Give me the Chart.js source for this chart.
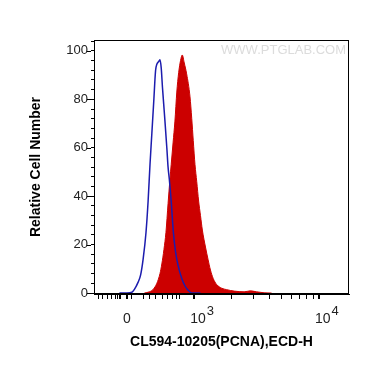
<!DOCTYPE html>
<html>
<head>
<meta charset="utf-8">
<script src="https://cdn.jsdelivr.net/npm/chart.js@4/dist/chart.umd.min.js"></script>
<style>
  html, body { margin: 0; padding: 0; background: #fff; }
  #wrap { width: 370px; height: 367px; }
</style>
</head>
<body>
<div id="wrap"><canvas id="chart"></canvas></div>
<script>
// x positions are display units of the logicle axis (10^3 -> 3, 10^4 -> 4)
const isoX = [2.40, 2.46, 2.50, 2.52, 2.55, 2.57, 2.59, 2.613, 2.63, 2.645, 2.66, 2.675, 2.69, 2.70, 2.713, 2.725,
              2.735, 2.745, 2.755, 2.765, 2.78, 2.79, 2.80, 2.815, 2.832, 2.85, 2.872, 2.90, 2.925, 2.95, 2.98, 3.05];
const isoY = [0, 0, 0.3, 1.5, 4.5, 7.5, 14, 25, 38, 53, 66, 79, 92, 94.5, 95.5, 96.3,
              93, 85, 78, 71, 60, 52, 47, 38, 25.4, 17, 11, 6, 3, 1.2, 0, 0];

const pcnaX = [2.60, 2.64, 2.67, 2.70, 2.725, 2.74, 2.757, 2.773, 2.79, 2.805, 2.815, 2.83, 2.845, 2.86, 2.875, 2.89,
               2.904, 2.92, 2.939, 2.966, 2.98, 2.992, 3.006, 3.02, 3.035, 3.05, 3.065, 3.09, 3.11, 3.13, 3.152,
               3.18, 3.22, 3.26, 3.32, 3.40, 3.45, 3.50, 3.56, 3.62];
const pcnaY = [0, 0.5, 1.5, 4, 8, 12, 18, 25, 37, 47, 53, 62, 71, 83, 91, 96,
               98.3, 95, 90.5, 81, 72, 63, 53, 46, 38, 32, 26, 19, 14, 9.5, 6,
               3.5, 2, 1.4, 0.8, 0.5, 0.9, 0.5, 0.1, 0];

const xMajorTicks = [2.46, 3, 4];
const xMajorLabels = [['0', ''], ['10', '3'], ['10', '4']];
const xMinorTicks = [2.23, 2.265, 2.302, 2.338, 2.372, 2.386, 2.399, 2.412, 2.498, 2.591, 2.639, 2.693, 2.747,
                     2.784, 2.827, 2.859, 2.885, 3.301, 3.477, 3.602, 3.699, 3.778, 3.845, 3.903, 3.954];
const yTicks = [0, 4, 8, 12, 16, 20, 24, 28, 32, 36, 40, 44, 48, 52, 56, 60, 64, 68, 72, 76, 80, 84, 88, 92, 96, 100, 104];

const watermark = 'WWW.PTGLAB.COM';
const fontFamily = '"Liberation Sans", Arial, sans-serif';

const decorations = {
    id: 'decorations',
    beforeDatasetsDraw(chart) {
        const {ctx, chartArea: a} = chart;
        ctx.save();
        ctx.font = '13px ' + fontFamily;
        ctx.fillStyle = '#dcdcdc';
        ctx.textAlign = 'right';
        ctx.textBaseline = 'alphabetic';
        ctx.fillText(watermark, a.right - 3, a.top + 14);
        ctx.restore();
    },
    afterDraw(chart) {
        const {ctx, chartArea: a, scales: {x, y}} = chart;
        ctx.save();
        // plot frame
        ctx.strokeStyle = '#000';
        ctx.lineWidth = 1;
        ctx.strokeRect(a.left + 0.5, a.top + 0.5, a.right - a.left - 1, a.bottom - a.top - 1);

        // longer marks for labelled y ticks
        yTicks.filter(v => v % 20 === 0).forEach(v => {
            const py = Math.round(y.getPixelForValue(v)) + 0.5;
            ctx.beginPath();
            ctx.moveTo(a.left - 7, py);
            ctx.lineTo(a.left - 3, py);
            ctx.stroke();
        });

        // x labels with superscript exponents
        ctx.fillStyle = '#222';
        ctx.textBaseline = 'alphabetic';
        ctx.textAlign = 'left';
        xMajorTicks.forEach((v, i) => {
            const [base, sup] = xMajorLabels[i];
            const px = x.getPixelForValue(v);
            ctx.font = '14px ' + fontFamily;
            const w = ctx.measureText(base).width;
            const left = sup ? px - 4 : px - w / 2;
            ctx.fillText(base, left, a.bottom + 29);
            if (sup) {
                ctx.font = '13px ' + fontFamily;
                ctx.fillText(sup, left + w + 1, a.bottom + 21);
            }
        });
        ctx.restore();
    }
};

new Chart('chart', {
    type: 'line',
    data: {
        datasets: [
            {
                label: 'Isotype',
                data: isoX.map((v, i) => ({x: v, y: isoY[i]})),
                borderColor: '#1c1cae',
                borderWidth: 1.5,
                pointRadius: 0,
                fill: false,
                cubicInterpolationMode: 'monotone',
                order: 0
            },
            {
                label: 'PCNA',
                data: pcnaX.map((v, i) => ({x: v, y: pcnaY[i]})),
                borderColor: '#cc0000',
                backgroundColor: '#cc0000',
                borderWidth: 1,
                pointRadius: 0,
                fill: 'origin',
                cubicInterpolationMode: 'monotone',
                order: 1
            }
        ]
    },
    options: {
        responsive: true,
        maintainAspectRatio: false,
        animation: false,
        layout: {
            padding: {left: 28, top: 40, right: 21, bottom: 0}
        },
        plugins: {
            legend: {display: false},
            tooltip: {enabled: false}
        },
        scales: {
            x: {
                type: 'linear',
                min: 2.196,
                max: 4.241,
                afterFit: function(scale) { scale.height = 73; },
                afterBuildTicks: function(scale) {
                    scale.ticks = xMajorTicks.concat(xMinorTicks).sort((a, b) => a - b).map(v => ({value: v}));
                },
                ticks: {
                    autoSkip: false,
                    callback: function() { return ''; }
                },
                grid: {
                    drawOnChartArea: false,
                    tickLength: 5,
                    color: '#000',
                    lineWidth: function(context) {
                        return context.tick && xMajorTicks.includes(context.tick.value) ? 2 : 1;
                    }
                },
                border: {display: true, color: '#000', width: 1},
                title: {
                    display: true,
                    text: 'CL594-10205(PCNA),ECD-H',
                    color: '#000',
                    font: {family: fontFamily, size: 14, weight: 'bold'},
                    padding: {top: 0, bottom: 16}
                }
            },
            y: {
                type: 'linear',
                min: -0.4,
                max: 104.5,
                afterFit: function(scale) { scale.width = 66; },
                afterBuildTicks: function(scale) {
                    scale.ticks = yTicks.map(v => ({value: v}));
                },
                ticks: {
                    autoSkip: false,
                    padding: 3,
                    color: '#222',
                    font: {family: fontFamily, size: 13},
                    callback: function(value) { return value % 20 === 0 ? value : ''; }
                },
                grid: {
                    drawOnChartArea: false,
                    tickLength: 3,
                    color: '#000',
                    lineWidth: 1
                },
                border: {display: true, color: '#000', width: 1},
                title: {
                    display: true,
                    text: 'Relative Cell Number',
                    color: '#000',
                    font: {family: fontFamily, size: 14, weight: 'bold'},
                    padding: 0
                }
            }
        }
    },
    plugins: [decorations]
});
</script>
</body>
</html>
